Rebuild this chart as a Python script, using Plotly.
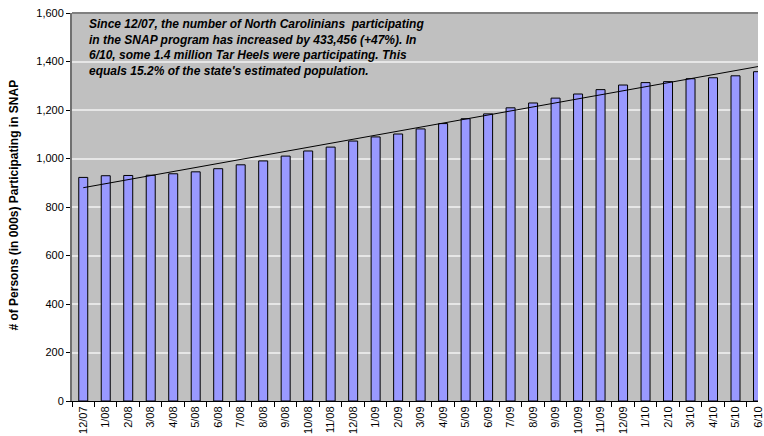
import numpy as np
import plotly.graph_objects as go

months = ["12/07", "1/08", "2/08", "3/08", "4/08", "5/08", "6/08", "7/08", "8/08", "9/08",
          "10/08", "11/08", "12/08", "1/09", "2/09", "3/09", "4/09", "5/09", "6/09", "7/09",
          "8/09", "9/09", "10/09", "11/09", "12/09", "1/10", "2/10", "3/10", "4/10", "5/10", "6/10"]
participants = [922, 929, 930, 931, 937, 945, 958, 974, 990, 1010,
                1031, 1047, 1072, 1089, 1101, 1122, 1144, 1164, 1184, 1209,
                1229, 1249, 1266, 1284, 1303, 1313, 1317, 1329, 1333, 1341, 1358]
y_ticks = [0, 200, 400, 600, 800, 1000, 1200, 1400, 1600]

idx = np.arange(len(participants))
slope, intercept = np.polyfit(idx, participants, 1)
trend = slope * idx + intercept

FONT = "Arial, Liberation Sans, sans-serif"

fig = go.Figure()
fig.add_trace(go.Bar(
    x=months, y=participants, width=0.4,
    marker=dict(color="#9999FF", line=dict(color="#000000", width=1)),
    showlegend=False,
))
fig.add_trace(go.Scatter(
    x=months, y=trend, mode="lines",
    line=dict(color="#000000", width=1), showlegend=False,
))

fig.update_layout(
    width=764, height=436,
    margin=dict(l=72, r=0, t=13, b=35),
    paper_bgcolor="white", plot_bgcolor="#C0C0C0",
    font=dict(family=FONT, size=10, color="#000000"),
    bargap=0.6,
    xaxis=dict(
        type="category", range=[-0.5, 30.0],
        tickangle=-90, tickfont=dict(size=11, family=FONT),
        ticks="outside", ticklen=5, tickcolor="#000000", tickson="boundaries",
        showline=True, linecolor="#000000", linewidth=1,
        showgrid=False, zeroline=False,
    ),
    yaxis=dict(
        range=[0, 1600], tickvals=y_ticks, tickformat=",d",
        tickfont=dict(size=11, family=FONT),
        ticks="outside", ticklen=4, tickcolor="#000000",
        showline=True, linecolor="#707070", linewidth=2,
        showgrid=True, gridcolor="#E6E6E6", gridwidth=2,
        zeroline=False,
    ),
    annotations=[
        dict(
            text="# of Persons (in 000s) Participating in SNAP",
            xref="paper", yref="paper", x=-0.0838, y=0.505,
            textangle=-90, showarrow=False, xanchor="center", yanchor="middle",
            font=dict(size=12, family=FONT, color="#000000", weight="bold"),
        ),
        dict(
            text=("<b><i>Since 12/07, the number of North Carolinians  participating<br>"
                  "in the SNAP program has increased by 433,456 (+47%). In<br>"
                  "6/10, some 1.4 million Tar Heels were participating. This<br>"
                  "equals 15.2% of the state's estimated population.</i></b>"),
            xref="paper", yref="paper", x=0.0217, y=0.995,
            xanchor="left", yanchor="top", align="left", showarrow=False,
            font=dict(size=12, family=FONT, color="#000000"),
        ),
    ],
    shapes=[dict(type="line", xref="paper", yref="paper", x0=0, x1=1, y0=1, y1=1,
                 line=dict(color="#808080", width=2))],
)

fig.write_html("out.html", config={"displayModeBar": False},
               post_script="document.body.style.margin='0';document.body.style.overflow='hidden';")
